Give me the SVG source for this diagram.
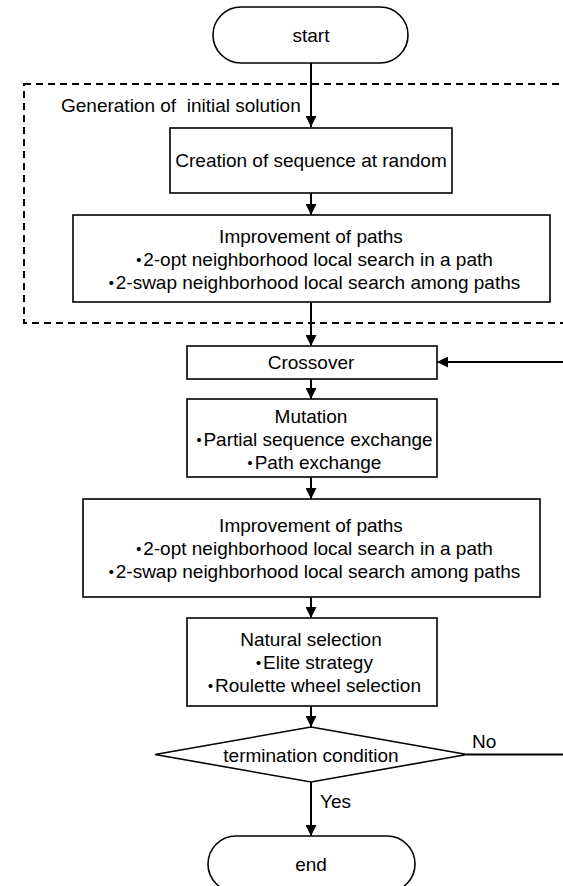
<svg xmlns="http://www.w3.org/2000/svg" width="563" height="886" viewBox="0 0 563 886">
<defs>
<style>
.node{fill:#fff;stroke:#000;stroke-width:1.6}
.t{font-family:"Liberation Sans","Noto Sans CJK JP",Arial,sans-serif;font-size:19px;fill:#000}
.c{text-anchor:middle}
.b{letter-spacing:-5px}
.conn{fill:none;stroke:#000;stroke-width:2}
.group{fill:none;stroke:#000;stroke-width:2;stroke-dasharray:7 5}
</style>
<marker id="arr" markerUnits="userSpaceOnUse" markerWidth="11" markerHeight="11" viewBox="0 0 10 10" refX="10" refY="5" orient="auto">
<path d="M0,0 L10,5 L0,10 z" fill="#000"/>
</marker>
</defs>
<rect width="563" height="886" fill="#fff"/>

<g id="initial-solution-group">
<rect class="group" x="24" y="84" width="548" height="239"/>
<text class="t" x="61" y="112" xml:space="preserve">Generation of  initial solution</text>
</g>

<g id="start">
<rect class="node" x="213" y="7" width="195" height="56" rx="28" ry="28"/>
<text class="t c" x="311" y="42">start</text>
</g>

<g id="creation">
<rect class="node" x="170" y="128" width="282" height="65"/>
<text class="t c" x="311" y="167">Creation of sequence at random</text>
</g>

<g id="improvement1">
<rect class="node" x="73" y="215" width="477" height="87"/>
<text class="t c" x="311" y="243">Improvement of paths</text>
<text class="t c" x="311" y="266"><tspan class="b" dy="2">・</tspan><tspan dy="-2">2-opt neighborhood local search in a path</tspan></text>
<text class="t c" x="311" y="289"><tspan class="b" dy="2">・</tspan><tspan dy="-2">2-swap neighborhood local search among paths</tspan></text>
</g>

<g id="crossover">
<rect class="node" x="187" y="346" width="250" height="33"/>
<text class="t c" x="311" y="369">Crossover</text>
</g>

<g id="mutation">
<rect class="node" x="187" y="399" width="250" height="78"/>
<text class="t c" x="311" y="423">Mutation</text>
<text class="t c" x="311" y="446"><tspan class="b" dy="2">・</tspan><tspan dy="-2">Partial sequence exchange</tspan></text>
<text class="t c" x="311" y="469"><tspan class="b" dy="2">・</tspan><tspan dy="-2">Path exchange</tspan></text>
</g>

<g id="improvement2">
<rect class="node" x="83" y="499" width="457" height="98"/>
<text class="t c" x="311" y="532">Improvement of paths</text>
<text class="t c" x="311" y="555"><tspan class="b" dy="2">・</tspan><tspan dy="-2">2-opt neighborhood local search in a path</tspan></text>
<text class="t c" x="311" y="578"><tspan class="b" dy="2">・</tspan><tspan dy="-2">2-swap neighborhood local search among paths</tspan></text>
</g>

<g id="natural-selection">
<rect class="node" x="187" y="618" width="250" height="88"/>
<text class="t c" x="311" y="646">Natural selection</text>
<text class="t c" x="311" y="669"><tspan class="b" dy="2">・</tspan><tspan dy="-2">Elite strategy</tspan></text>
<text class="t c" x="311" y="692"><tspan class="b" dy="2">・</tspan><tspan dy="-2">Roulette wheel selection</tspan></text>
</g>

<g id="termination">
<polygon class="node" points="311,727 467,754.5 311,782 155,754.5"/>
<text class="t c" x="311" y="762">termination condition</text>
</g>

<g id="end">
<rect class="node" x="208" y="836" width="207" height="56" rx="28" ry="28"/>
<text class="t c" x="311" y="871">end</text>
</g>

<g id="connectors">
<path class="conn" d="M311,63 V127" marker-end="url(#arr)"/>
<path class="conn" d="M311,193 V215" marker-end="url(#arr)"/>
<path class="conn" d="M311,302 V346" marker-end="url(#arr)"/>
<path class="conn" d="M311,379 V399" marker-end="url(#arr)"/>
<path class="conn" d="M311,477 V499" marker-end="url(#arr)"/>
<path class="conn" d="M311,597 V618" marker-end="url(#arr)"/>
<path class="conn" d="M311,706 V727" marker-end="url(#arr)"/>
<path class="conn" d="M311,782 V836" marker-end="url(#arr)"/>
<path class="conn" d="M467,754.5 H567 V362 H437" marker-end="url(#arr)"/>
<text class="t" x="320" y="808">Yes</text>
<text class="t" x="472" y="748">No</text>
</g>
</svg>
